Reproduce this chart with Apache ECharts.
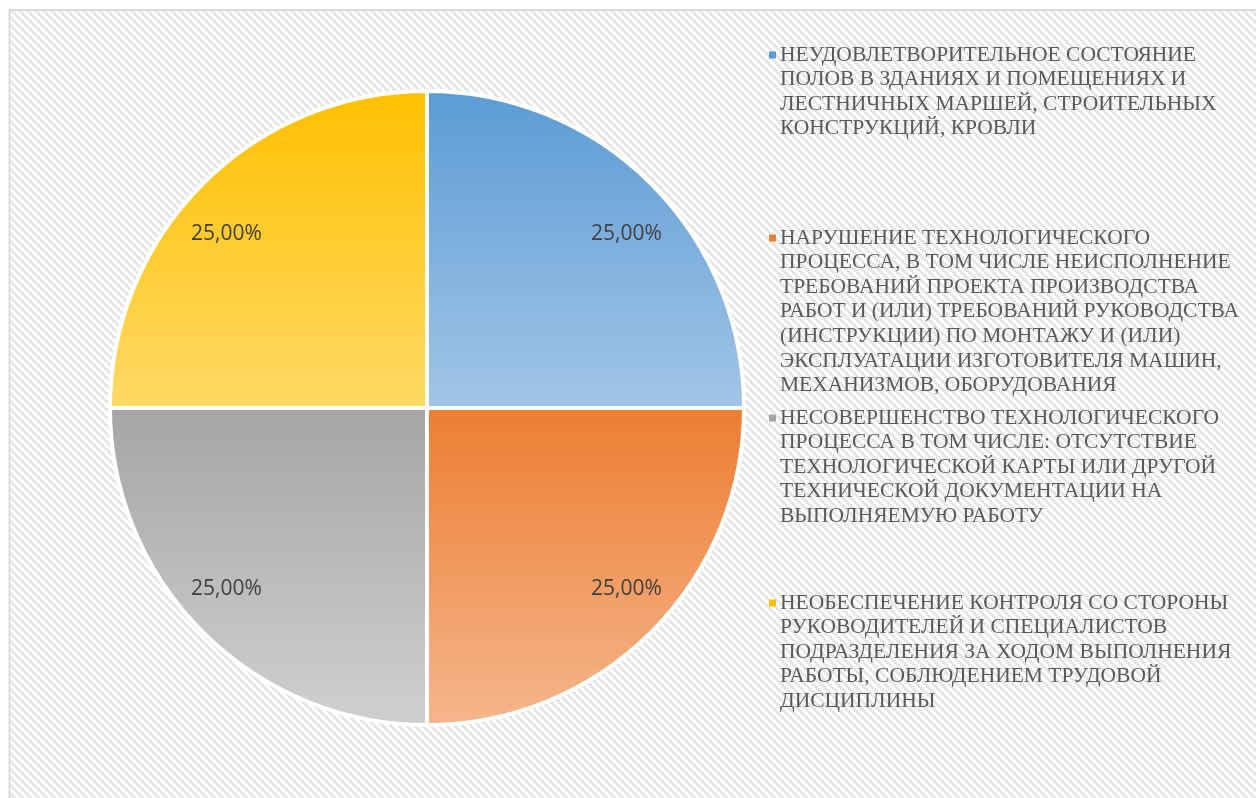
<!DOCTYPE html>
<html>
<head>
<meta charset="utf-8">
<script src="https://cdn.jsdelivr.net/npm/echarts@6/dist/echarts.min.js"></script>
<style>
  html, body { margin: 0; padding: 0; background: #fff; }
  #chart { width: 1256px; height: 798px; }
</style>
</head>
<body>
<div id="chart"></div>
<script>
// legend text, one entry per wrapped line as in the picture
const legendLines = [
  ['НЕУДОВЛЕТВОРИТЕЛЬНОЕ СОСТОЯНИЕ', 'ПОЛОВ В ЗДАНИЯХ И ПОМЕЩЕНИЯХ И', 'ЛЕСТНИЧНЫХ МАРШЕЙ, СТРОИТЕЛЬНЫХ', 'КОНСТРУКЦИЙ, КРОВЛИ'],
  ['НАРУШЕНИЕ ТЕХНОЛОГИЧЕСКОГО', 'ПРОЦЕССА, В ТОМ ЧИСЛЕ НЕИСПОЛНЕНИЕ', 'ТРЕБОВАНИЙ ПРОЕКТА ПРОИЗВОДСТВА', 'РАБОТ И (ИЛИ) ТРЕБОВАНИЙ РУКОВОДСТВА', '(ИНСТРУКЦИИ) ПО МОНТАЖУ И (ИЛИ)', 'ЭКСПЛУАТАЦИИ ИЗГОТОВИТЕЛЯ МАШИН,', 'МЕХАНИЗМОВ, ОБОРУДОВАНИЯ'],
  ['НЕСОВЕРШЕНСТВО ТЕХНОЛОГИЧЕСКОГО', 'ПРОЦЕССА В ТОМ ЧИСЛЕ: ОТСУТСТВИЕ', 'ТЕХНОЛОГИЧЕСКОЙ КАРТЫ ИЛИ ДРУГОЙ', 'ТЕХНИЧЕСКОЙ ДОКУМЕНТАЦИИ НА', 'ВЫПОЛНЯЕМУЮ РАБОТУ'],
  ['НЕОБЕСПЕЧЕНИЕ КОНТРОЛЯ СО СТОРОНЫ', 'РУКОВОДИТЕЛЕЙ И СПЕЦИАЛИСТОВ', 'ПОДРАЗДЕЛЕНИЯ ЗА ХОДОМ ВЫПОЛНЕНИЯ', 'РАБОТЫ, СОБЛЮДЕНИЕМ ТРУДОВОЙ', 'ДИСЦИПЛИНЫ']
]
const categories = legendLines.map(l => l.join(' '))
const values = [25, 25, 25, 25]
const colorsTop = ['#5b9bd5', '#ed7d31', '#a5a5a5', '#ffc000']
const colorsBottom = ['#a3c5e7', '#f5b68c', '#d0d0d0', '#ffd966']
const legendTops = [42.7, 225.7, 405.7, 590.7]
// nudges so the value labels sit where the original put them
const labelOffsets = [[10, 16], [10, -8], [-11, -8], [-11, 16]]

const LH = 24.6

// background pattern, stepped diagonal stripes
const pat = document.createElement('canvas')
pat.width = 8
pat.height = 8
const pctx = pat.getContext('2d')
pctx.fillStyle = '#ffffff'
pctx.fillRect(0, 0, 8, 8)
pctx.fillStyle = '#e6e6e6'
for (let y = 0; y < 8; y++) {
  for (let x = 0; x < 8; x++) {
    const k = (((x >> 1) - (y >> 1)) % 4 + 4) % 4
    if (k < 2) pctx.fillRect(x, y, 1, 1)
  }
}

const chart = echarts.init(document.getElementById('chart'), null, { renderer: 'canvas' })

const pieData = categories.map((name, i) => ({
  name,
  value: values[i],
  itemStyle: {
    color: {
      type: 'linear', x: 0, y: 0, x2: 0, y2: 1,
      colorStops: [
        { offset: 0, color: colorsTop[i] },
        { offset: 1, color: colorsBottom[i] }
      ]
    }
  }
}))

const legends = categories.map((name, i) => ({
  data: [name],
  left: 764,
  top: legendTops[i],
  padding: 0,
  icon: 'none',
  itemWidth: 0,
  itemHeight: 0,
  selectedMode: false,
  formatter: n => {
    const lines = legendLines[i]
    return lines.map((l, j) => (j === 0 ? '{sq|}{g|}' : '{ind|}') + '{t|' + l + '}').join('\n')
  },
  textStyle: {
    lineHeight: LH,
    rich: {
      sq: { width: 7, height: 7, backgroundColor: colorsTop[i], lineHeight: LH },
      g: { width: 4, lineHeight: LH },
      ind: { width: 11, lineHeight: LH },
      t: {
        fontFamily: 'Liberation Serif',
        fontSize: 21.5,
        color: '#595959',
        lineHeight: LH
      }
    }
  }
}))

const option = {
  animation: false,
  graphic: [{
    type: 'rect',
    z: -10,
    silent: true,
    shape: { x: 9.5, y: 10, width: 1270, height: 800 },
    style: {
      fill: { image: pat, repeat: 'repeat' },
      stroke: '#d9d9d9',
      lineWidth: 2
    }
  }],
  legend: legends,
  series: [
    {
      type: 'pie',
      center: [427, 408],
      radius: [0, 317],
      startAngle: 90,
      clockwise: true,
      silent: true,
      itemStyle: { borderColor: '#ffffff', borderWidth: 4 },
      label: { show: false },
      labelLine: { show: false },
      data: pieData
    },
    {
      // label carrier: transparent ring so the labels sit out toward the rim
      type: 'pie',
      center: [427, 408],
      radius: [212, 318],
      startAngle: 90,
      clockwise: true,
      silent: true,
      itemStyle: { color: 'rgba(0,0,0,0)' },
      label: {
        show: true,
        position: 'inside',
        fontFamily: 'Open Sans',
        fontSize: 21,
        color: '#404040',
        formatter: p => p.percent.toFixed(2).replace('.', ',') + '%'
      },
      labelLine: { show: false },
      data: categories.map((name, i) => ({
        name,
        value: values[i],
        label: { offset: labelOffsets[i] }
      }))
    }
  ]
}

chart.setOption(option)
</script>
</body>
</html>
